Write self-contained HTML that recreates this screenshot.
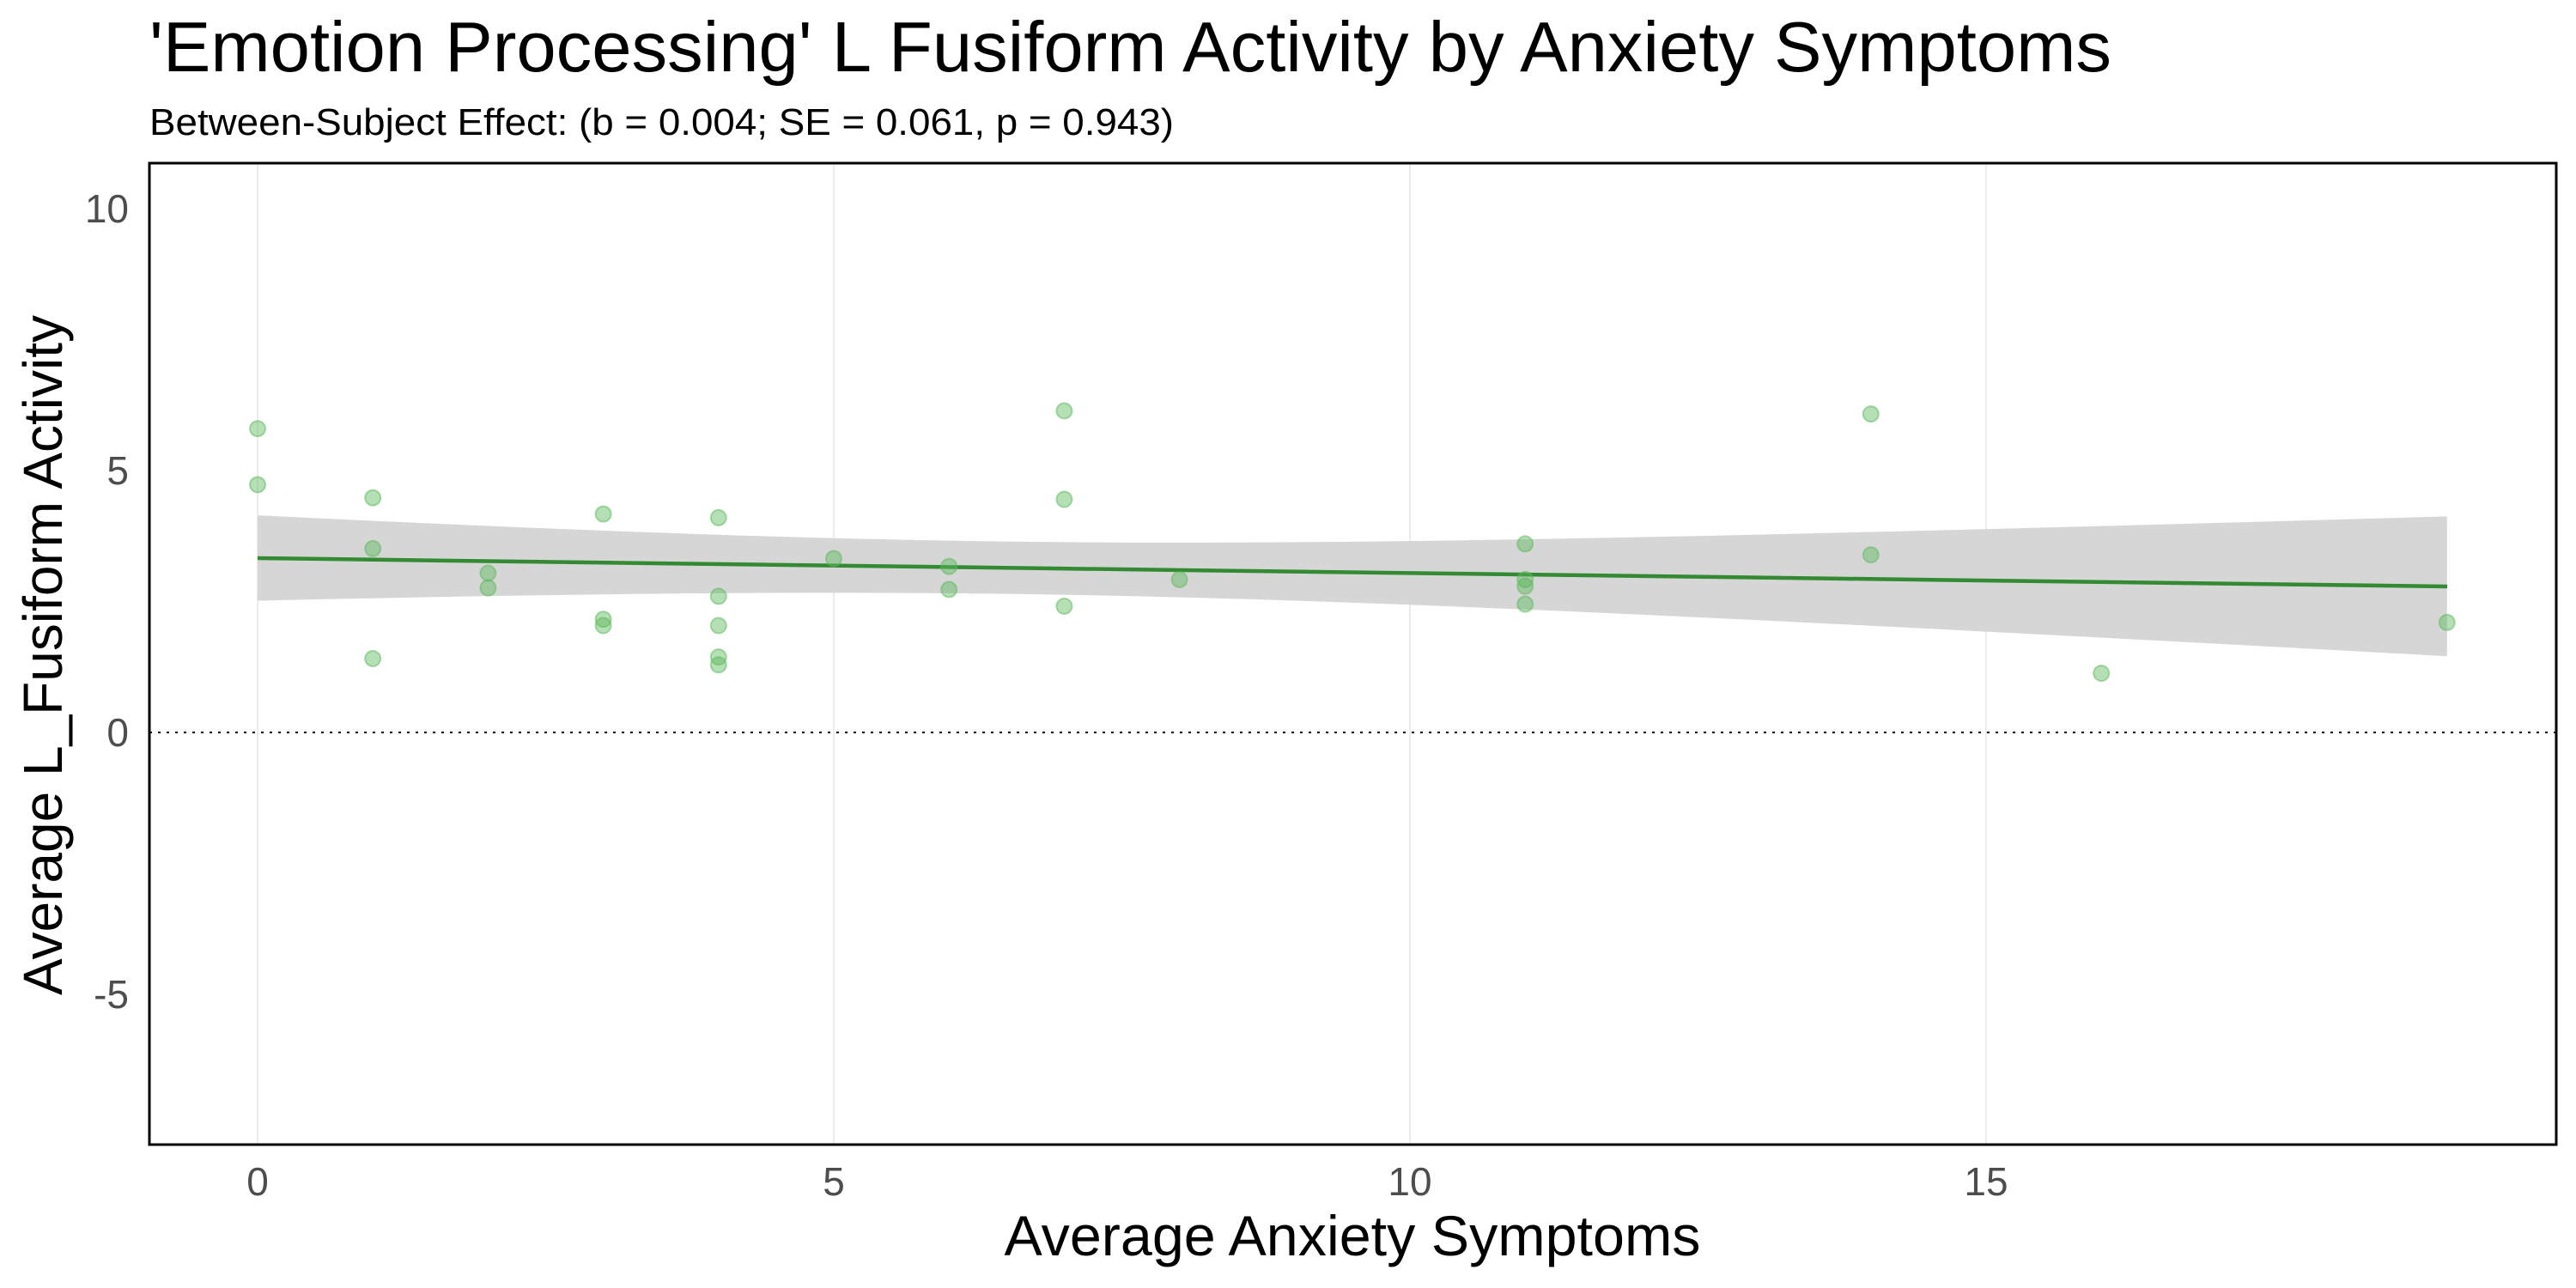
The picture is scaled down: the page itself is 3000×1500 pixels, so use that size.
<!DOCTYPE html>
<html><head><meta charset="utf-8"><style>
html,body{margin:0;padding:0;background:#fff;}
svg{display:block;}
text{font-family:"Liberation Sans",Arial,sans-serif;}
</style></head><body>
<svg id="s" width="3000" height="1500" xmlns="http://www.w3.org/2000/svg">
<rect width="3000" height="1500" fill="#fff"/>
<text x="174" y="83" font-size="83" fill="#000" textLength="2285" lengthAdjust="spacingAndGlyphs">'Emotion Processing' L Fusiform Activity by Anxiety Symptoms</text>
<text x="174" y="157" font-size="44" fill="#000" textLength="1193" lengthAdjust="spacingAndGlyphs">Between-Subject Effect: (b = 0.004; SE = 0.061, p = 0.943)</text>
<g stroke="#ebebeb" stroke-width="2">
<line x1="300" y1="190" x2="300" y2="1333"/>
<line x1="971" y1="190" x2="971" y2="1333"/>
<line x1="1642" y1="190" x2="1642" y2="1333"/>
<line x1="2313" y1="190" x2="2313" y2="1333"/>
</g>
<polygon id="rib" fill="#d6d6d6"/>
<line x1="174" y1="853" x2="2977" y2="853" stroke="#000" stroke-width="2" stroke-dasharray="3,7"/>
<line x1="300" y1="650" x2="2850" y2="683" stroke="#338a33" stroke-width="4.5"/>
<g id="pts" fill="#5cb85c" fill-opacity="0.45" stroke="#5cb85c" stroke-opacity="0.5" stroke-width="2"></g>
<rect x="174" y="190" width="2803" height="1143" fill="none" stroke="#000" stroke-width="3"/>
<g font-size="46" fill="#4d4d4d" text-anchor="end">
<text x="150" y="259">10</text>
<text x="150" y="564">5</text>
<text x="150" y="869">0</text>
<text x="150" y="1174">-5</text>
</g>
<g font-size="46" fill="#4d4d4d" text-anchor="middle">
<text x="300" y="1392">0</text>
<text x="971" y="1392">5</text>
<text x="1642" y="1392">10</text>
<text x="2313" y="1392">15</text>
</g>
<text x="1575" y="1462" font-size="66" text-anchor="middle" fill="#000" textLength="811" lengthAdjust="spacingAndGlyphs">Average Anxiety Symptoms</text>
<text transform="translate(72,763) rotate(-90)" font-size="64" text-anchor="middle" fill="#000">Average L_Fusiform Activity</text>
</svg>
<script>
var X=function(v){return 300+134.2*v},Y=function(v){return 853-61*v};
var d=[[0,5.8],[0,4.73],[1,4.48],[1,3.51],[1,1.41],[2,3.04],[2,2.76],[3,4.17],[3,2.16],[3,2.04],[4,4.1],[4,2.6],[4,2.04],[4,1.44],[4,1.29],[5,3.32],[6,3.17],[6,2.73],[7,6.14],[7,4.45],[7,2.41],[8,2.92],[11,3.6],[11,2.92],[11,2.79],[11,2.45],[14,6.08],[14,3.39],[16,1.13],[19,2.1]];
var g=document.getElementById('pts'),h='';
d.forEach(function(p){h+='<circle cx="'+X(p[0])+'" cy="'+Y(p[1])+'" r="9"/>';});
g.innerHTML=h;
var upr=[],lwr=[];
for(var i=0;i<=40;i++){var x=19*i/40;var m=3.33+(2.79-3.33)*x/19;var hw=Math.sqrt(0.25+0.0098*(x-6.5)*(x-6.5));
upr.push(X(x)+','+Y(m+hw));lwr.unshift(X(x)+','+Y(m-hw));}
document.getElementById('rib').setAttribute('points',upr.concat(lwr).join(' '));
</script>
</body></html>
